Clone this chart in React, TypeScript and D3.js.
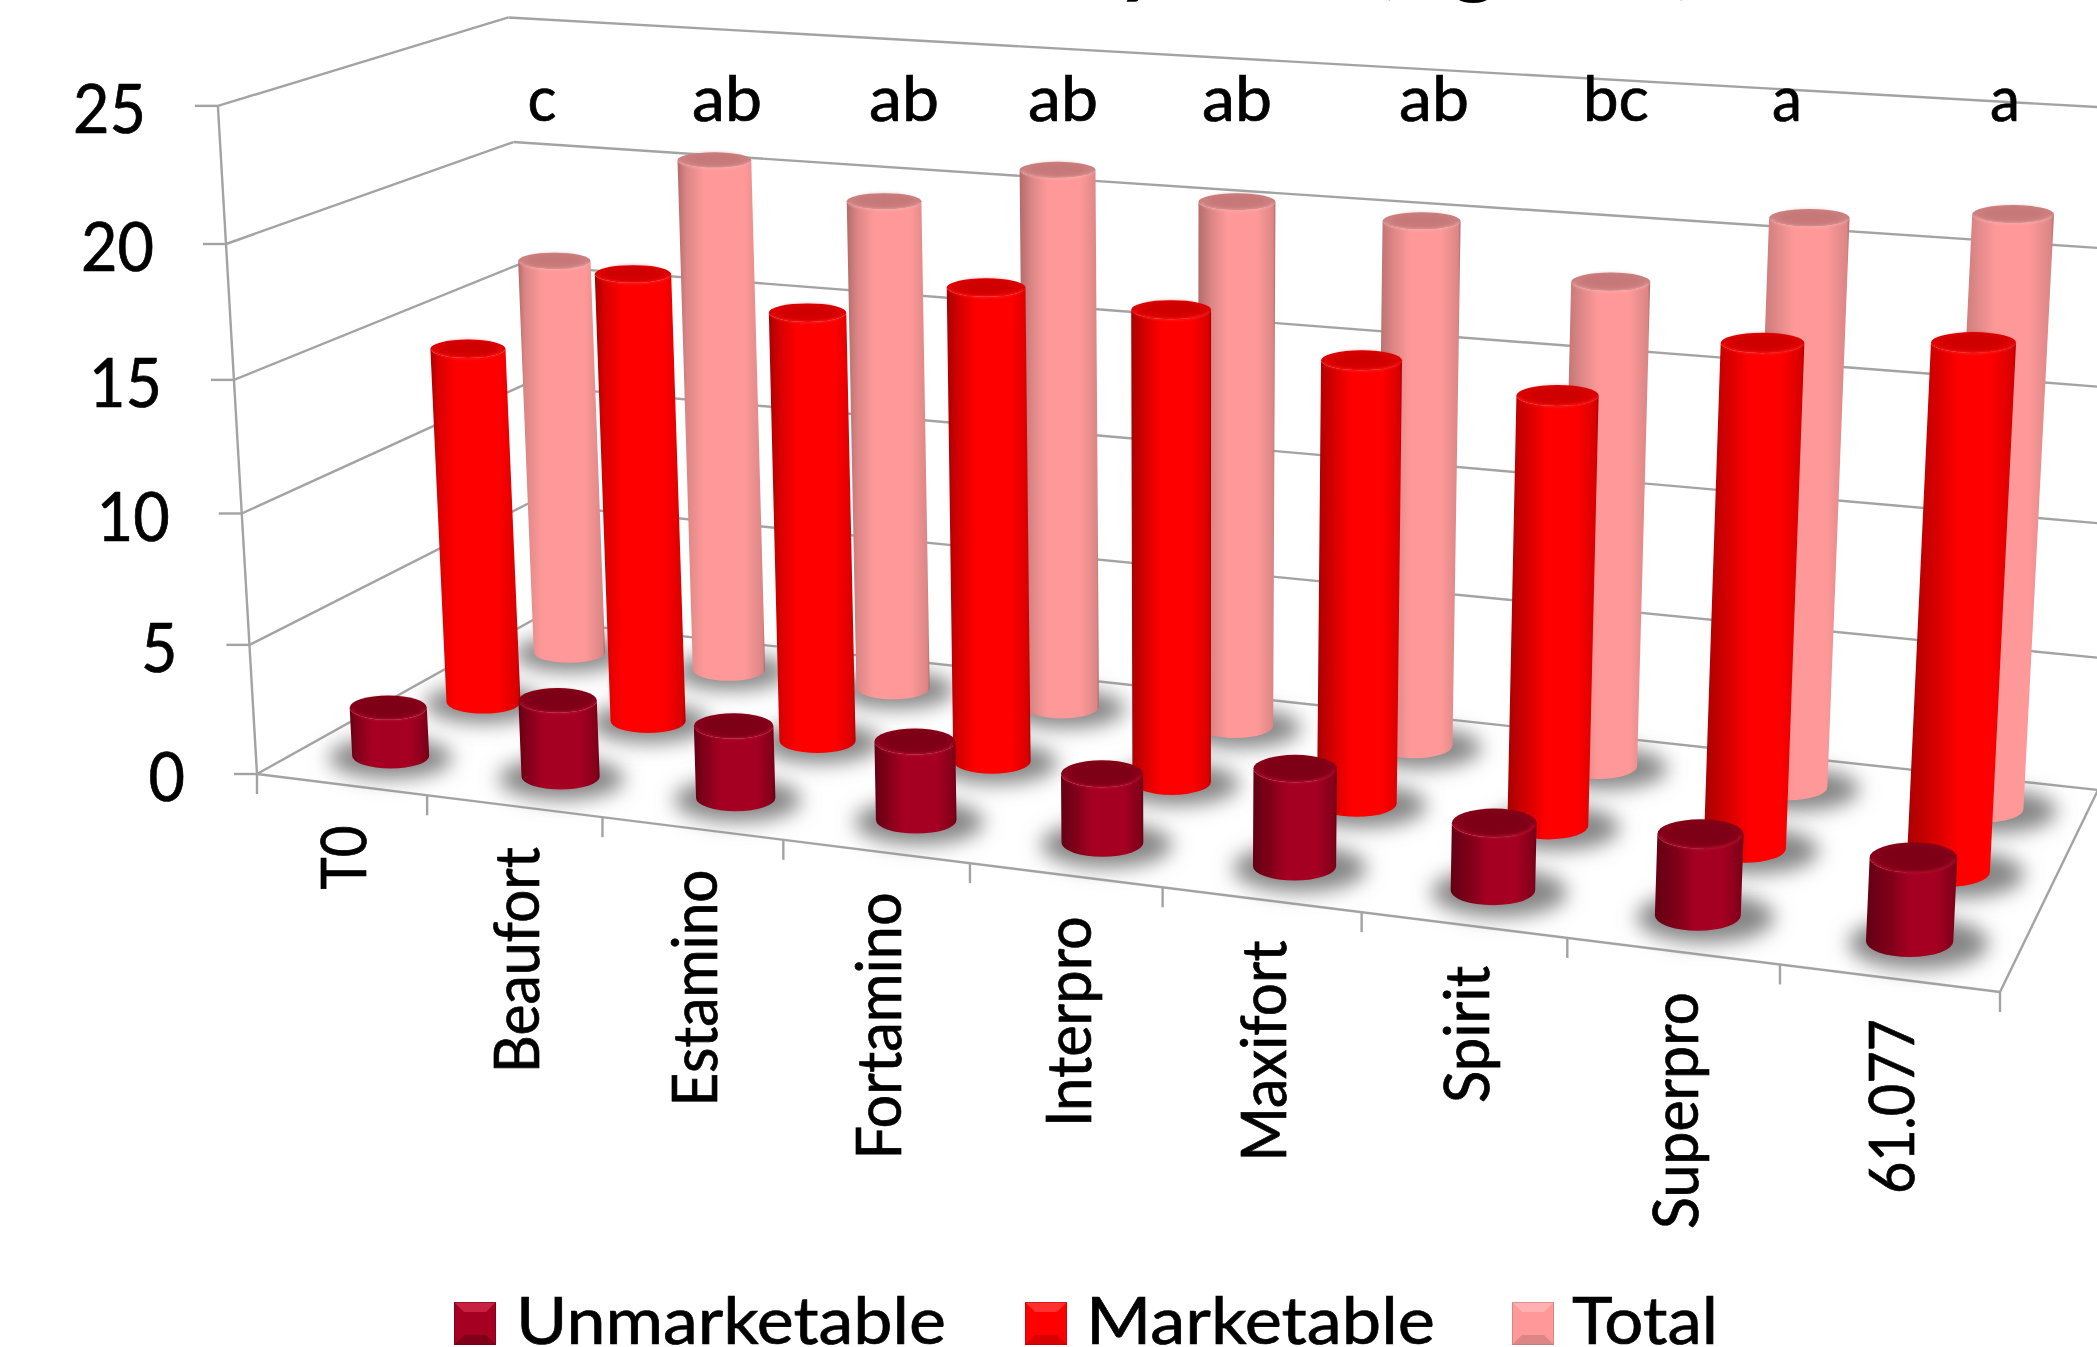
import React from "react";
import * as d3 from "d3";

// ---------- data ----------
const categories = ["T0", "Beaufort", "Estamino", "Fortamino", "Interpro", "Maxifort", "Spirit", "Superpro", "61.077"];
const seriesNames = ["Unmarketable", "Marketable", "Total"];
const unmarketable = [1.9, 2.95, 2.75, 2.95, 2.55, 3.55, 2.42, 2.87, 2.9];
const marketable = [14.1, 17.5, 16.55, 18.0, 17.7, 16.4, 15.7, 18.1, 18.65];
const total = [16.1, 20.55, 19.4, 21.05, 20.3, 20.05, 18.3, 21.1, 21.7];
const yTicks = [0, 5, 10, 15, 20, 25];
const sigLetters = ["c", "ab", "ab", "ab", "ab", "ab", "bc", "a", "a"];

// ---------- layout and style ----------
const W = 2097, H = 1347;
const FONT = "Lato, Carlito, Calibri, sans-serif";
const AXIS = "#a3a3a3";
const corners = { fl: [257, 774], fr: [2000, 992], br: [2098, 790], bl: [533, 620] };
const vanish = [1189, 16700];
const sigX = [542, 727, 904, 1063, 1237, 1434, 1616, 1787, 2005];
const sigLen = [29, 70, 70, 70, 70, 70, 66, 30, 30];
const catLen = [64, 226, 237, 267, 211, 221, 137, 237, 175];
const palette = [
  { side: "#a50021", dark: "#640013", top: "#850019", topMid: "#7d0016", rim: "#c8213f", shade: "#800019", name: "#a50021" },
  { side: "#ff0000", dark: "#a80000", top: "#dc0000", topMid: "#cf0000", rim: "#ff3030", shade: "#d80000", name: "#ff0000" },
  { side: "#ff9999", dark: "#b26b6b", top: "#cc7f7f", topMid: "#c67878", rim: "#ffb0b0", shade: "#dc8686", name: "#ff9999" },
];
const legendItems = [
  { sx: 454, tx: 516, len: 430 },
  { sx: 1025, tx: 1086, len: 349 },
  { sx: 1512, tx: 1572, len: 146 },
];

// ---------- projection ----------
const [x0, y0] = corners.fl, [x1, y1] = corners.fr, [x2, y2] = corners.br, [x3, y3] = corners.bl;
const sx = x0 - x1 + x2 - x3, sy = y0 - y1 + y2 - y3;
const dx1 = x1 - x2, dx2 = x3 - x2, dy1 = y1 - y2, dy2 = y3 - y2;
const det = dx1 * dy2 - dx2 * dy1;
const g = (sx * dy2 - dx2 * sy) / det;
const h = (dx1 * sy - sx * dy1) / det;
const depthAt = (u: number, w: number) => 1 + g * u + h * w;
const floorPt = (u: number, w: number) => {
  const d = depthAt(u, w);
  return [
    (x1 - x0 + g * x1) * u / d + (x3 - x0 + h * x3) * w / d + x0 / d,
    (y1 - y0 + g * y1) * u / d + (y3 - y0 + h * y3) * w / d + y0 / d,
  ];
};
const valuePx = d3.scaleLinear().domain([0, 25]).range([0, 640]);
const rise = (v: number) => valuePx(v) + 0.045 * v * v;
const project = (u: number, w: number, v: number) => {
  const [px, py] = floorPt(u, w);
  const ht = (rise(v) * (1 + w * (0.012 - 0.006 * u))) / depthAt(u, w);
  return [px + (px - vanish[0]) * ht / (vanish[1] - py), py - ht];
};
const uBand = d3.scaleBand().domain(categories).range([0, 1]);
const wBand = d3.scaleBand().domain(seriesNames).range([0, 1]);
const uOf = (c: string) => (uBand(c) as number) + uBand.bandwidth() / 2;
const wOf = (s: string) => (wBand(s) as number) + wBand.bandwidth() / 2;
const tilt = (y: number) => 0.22 + 0.000195 * (y - 216);

const seriesValues = [unmarketable, marketable, total];

function Cylinder({ si, ci, v }: { si: number; ci: number; v: number }) {
  const u = uOf(categories[ci]), w = wOf(seriesNames[si]);
  const d = depthAt(u, w);
  const base = project(u, w, 0), top = project(u, w, v);
  const rb = 39 / d, rt = rb * (1 + 0.001 * v);
  const ryb = rb * tilt(base[1]), ryt = rt * tilt(top[1]);
  const p = palette[si];
  const id = `cyl-${si}-${ci}`;
  const lw = 0.08 + 0.2 * (ci / 8);
  const side = `M${top[0] - rt},${top[1]} L${base[0] - rb},${base[1]} A${rb},${ryb} 0 0 0 ${base[0] + rb},${base[1]} L${top[0] + rt},${top[1]} A${rt},${ryt} 0 0 1 ${top[0] - rt},${top[1]} Z`;
  const rimR = rt * 0.93, rimY = ryt * 0.92;
  return (
    <g>
      <defs>
        <linearGradient id={id} x1="0" x2="1" y1="0" y2="0">
          <stop offset="0" stopColor={p.dark} />
          <stop offset={lw} stopColor={p.shade} />
          <stop offset={lw + 0.2} stopColor={p.side} />
          <stop offset="0.76" stopColor={p.side} />
          <stop offset="0.97" stopColor={p.shade} />
          <stop offset="1" stopColor={p.dark} />
        </linearGradient>
      </defs>
      <path d={side} fill={`url(#${id})`} />
      <ellipse cx={top[0]} cy={top[1]} rx={rt} ry={ryt} fill={p.top} />
      <ellipse cx={top[0]} cy={top[1] - 1} rx={rt * 0.75} ry={ryt * 0.7} fill={p.topMid} filter="url(#soft)" />
      <path
        d={`M${top[0] - rimR},${top[1] + 1} A${rimR},${rimY} 0 0 0 ${top[0] + rimR},${top[1] + 1}`}
        fill="none"
        stroke={p.rim}
        strokeWidth={2}
        opacity={0.55}
        filter="url(#rim)"
      />
    </g>
  );
}

function Swatch({ x, color, si }: { x: number; color: string; si: number }) {
  const y = 1302, s = 42, hh = 43, b = 10;
  const p = palette[si];
  return (
    <g>
      <rect x={x} y={y} width={s} height={hh} fill={color} />
      <polygon points={`${x},${y} ${x + s},${y} ${x + s - b},${y + b} ${x + b},${y + b}`} fill={p.rim} />
      <polygon points={`${x},${y + hh} ${x + s},${y + hh} ${x + s - b},${y + hh - b} ${x + b},${y + hh - b}`} fill={p.shade} />
      <rect x={x + 0.5} y={y + 0.5} width={s - 1} height={hh - 1} fill="none" stroke={p.dark} strokeOpacity={0.45} />
    </g>
  );
}

export default function App() {
  const seg = (a: number[], b: number[], key: string) => (
    <line key={key} x1={a[0]} y1={a[1]} x2={b[0]} y2={b[1]} stroke={AXIS} strokeWidth={2.4} />
  );
  const uTicks = d3.range(0, categories.length + 1).map((i) => i / categories.length);
  const textProps = { fontFamily: FONT, fill: "#000", stroke: "#000", strokeWidth: 0.7, lengthAdjust: "spacingAndGlyphs" } as const;
  return (
    <svg width={W} height={H} viewBox={`0 0 ${W} ${H}`} style={{ position: "absolute", left: 0, top: 0, background: "#fff" }}>
      <defs>
        <filter id="shadow" x="-60%" y="-100%" width="220%" height="300%"><feGaussianBlur stdDeviation="10" /></filter>
        <filter id="soft" x="-30%" y="-60%" width="160%" height="220%"><feGaussianBlur stdDeviation="2" /></filter>
        <filter id="rim" x="-10%" y="-50%" width="120%" height="200%"><feGaussianBlur stdDeviation="0.8" /></filter>
      </defs>

      {/* clipped title */}
      <text y={-14} fontFamily={FONT} fontWeight={700} fontSize={92} fill="#000">
        <tspan x={760}>Fruit</tspan>
        <tspan x={1116}>yield</tspan>
        <tspan x={1373}>(k</tspan>
        <tspan x={1450}>g</tspan>
        <tspan x={1672}>)</tspan>
      </text>

      {/* walls and floor */}
      {yTicks.map((t) => seg(project(0, 0, t), project(0, 1, t), `l${t}`))}
      {yTicks.map((t) => seg(project(0, 1, t), project(1, 1, t), `b${t}`))}
      {seg(project(0, 0, 0), project(0, 0, 25), "axis")}
      {seg(project(0, 0, 0), project(1, 0, 0), "front")}
      {seg(project(1, 0, 0), project(1, 1, 0), "right")}
      {yTicks.map((t) => {
        const p = project(0, 0, t);
        return seg([p[0] - 23, p[1]], p, `yt${t}`);
      })}
      {uTicks.map((u) => {
        const p = project(u, 0, 0);
        return seg(p, [p[0], p[1] + 20], `xt${u}`);
      })}

      {/* y labels */}
      {yTicks.map((t) => {
        const p = project(0, 0, t);
        const s = String(t);
        return (
          <text key={t} x={p[0] - 72} y={p[1] + 27} textAnchor="end" fontSize={67} textLength={36.5 * s.length} {...textProps}>
            {s}
          </text>
        );
      })}

      {/* shadows */}
      {[2, 1, 0].map((si) =>
        categories.map((c, ci) => {
          const u = uOf(c), w = wOf(seriesNames[si]);
          const b = project(u, w, 0);
          const r = 39 / depthAt(u, w);
          return (
            <ellipse key={`s${si}-${ci}`} cx={b[0] + (b[0] - 400) * 0.006} cy={b[1] + 2} rx={r * 1.6} ry={r * tilt(b[1]) * 1.65} fill="#858585" filter="url(#shadow)" />
          );
        })
      )}

      {/* cylinders */}
      {[2, 1, 0].map((si) =>
        categories.map((c, ci) => <Cylinder key={`${si}-${ci}`} si={si} ci={ci} v={seriesValues[si][ci]} />)
      )}

      {/* significance letters */}
      {sigLetters.map((s, i) => (
        <text key={i} x={sigX[i]} y={121} textAnchor="middle" fontSize={62} textLength={sigLen[i]} {...textProps}>
          {s}
        </text>
      ))}

      {/* category labels */}
      {categories.map((c, i) => {
        const p = project(uOf(c), 0, 0);
        return (
          <text key={c} transform={`translate(${p[0] + 25},${p[1] + 41}) rotate(-90)`} textAnchor="end" fontSize={61} textLength={catLen[i]} {...textProps}>
            {c}
          </text>
        );
      })}

      {/* legend */}
      {seriesNames.map((s, i) => (
        <g key={s}>
          <Swatch x={legendItems[i].sx} color={palette[i].name} si={i} />
          <text x={legendItems[i].tx} y={1344} fontSize={66} textLength={legendItems[i].len} {...textProps}>
            {s}
          </text>
        </g>
      ))}
    </svg>
  );
}
